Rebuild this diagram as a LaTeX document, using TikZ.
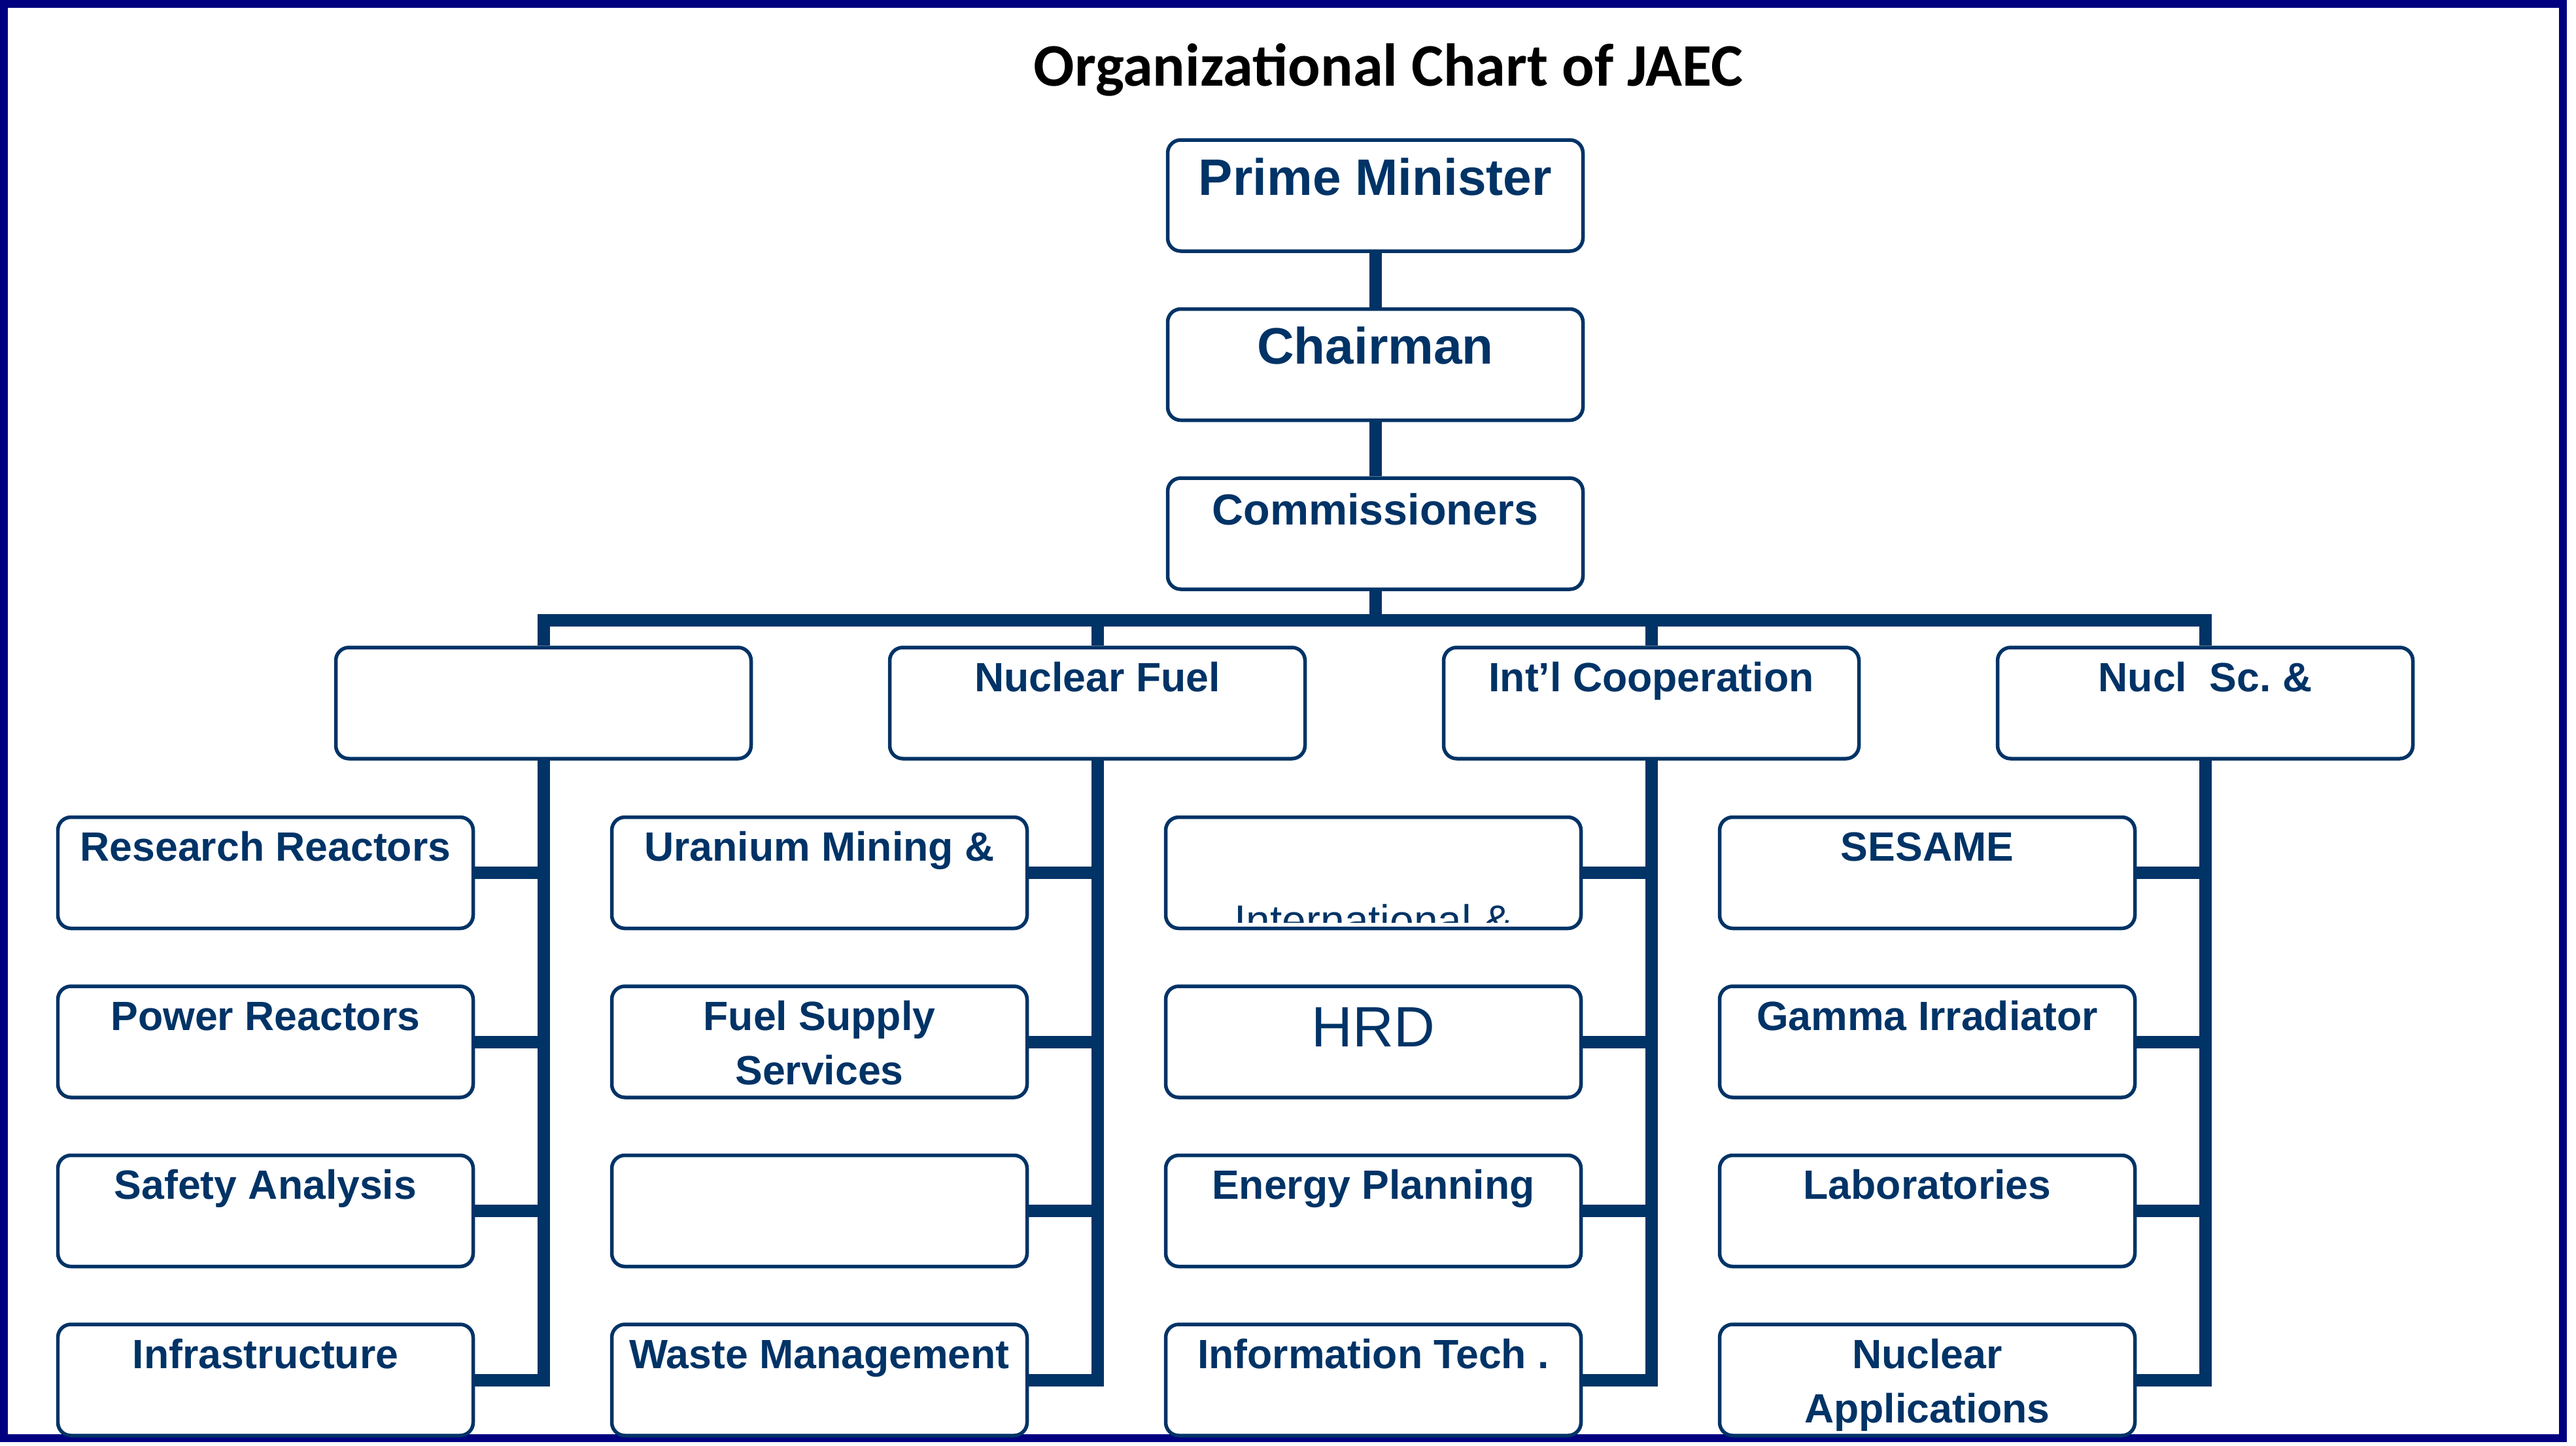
\documentclass[tikz,border=0pt]{standalone}
\usepackage{fontspec}
\setmainfont{Liberation Sans}
\newfontfamily\calibri{Carlito}
\definecolor{jaec}{RGB}{0,51,102}
\definecolor{rim}{RGB}{0,0,128}
\begin{document}
\begin{tikzpicture}
	\def\dx{8.47}
	\def\dy{2.585}
	\tikzset{s/.style={draw=jaec,line width=0.055cm,rounded corners=0.2cm,minimum width=6.35cm,minimum height=1.7cm,inner sep=0pt,align=center,text=jaec,font=\bfseries\fontsize{17.8}{23.6}\selectfont,text height=0.67cm,text depth=1.03cm},
		two/.style={text height=1.5cm,text depth=0.2cm},
		big/.style={font=\bfseries\fontsize{22.3}{26}\selectfont,text height=0.84cm,text depth=0.86cm},
		mid/.style={font=\bfseries\fontsize{18.9}{23}\selectfont,text height=0.71cm,text depth=0.99cm},
		hrd/.style={font=\fontsize{24.75}{30}\selectfont,text height=0.92cm,text depth=0.78cm},
		bar/.style={draw=jaec,line width=0.19cm}}
	\useasboundingbox(0,0)rectangle(39.39,-22.11);
	\draw[rim,line width=0.12cm](0.06,-0.06)rectangle(39.19,-21.99);
	\path(21.23,-1.317)node[anchor=base,font=\calibri\bfseries\fontsize{26.3}{30}\selectfont](T){Organizational Chart of JAEC};
	\path(21.03,-2.99)node[s,big](PM){Prime Minister}++(0,-\dy)node[s,big](CH){Chairman}++(0,-\dy)node[s,mid](CO){Commissioners};
	\path(CO.south)++(0,-0.45)coordinate(bus);
	\path(8.31,-10.75)node[s](A){}++(\dx,0)node[s](B){Nuclear Fuel}++(\dx,0)node[s](C){Int’l Cooperation}++(\dx,0)node[s](D){Nucl\ \ Sc.\ \&};
	\path(A)++(-4.25,-2.595)node[s](a1){Research Reactors}++(0,-\dy)node[s](a2){Power Reactors}++(0,-\dy)node[s](a3){Safety Analysis}++(0,-\dy)node[s](a4){Infrastructure};
	\path(B)++(-4.25,-2.595)node[s](b1){Uranium Mining \&}++(0,-\dy)node[s,two](b2){Fuel Supply\\Services}++(0,-\dy)node[s](b3){}++(0,-\dy)node[s](b4){Waste Management};
	\path(C)++(-4.25,-2.595)node[s](c1){}++(0,-\dy)node[s,hrd](c2){HRD}++(0,-\dy)node[s](c3){Energy Planning}++(0,-\dy)node[s](c4){Information Tech .};
	\path(D)++(-4.25,-2.595)node[s](d1){SESAME}++(0,-\dy)node[s](d2){Gamma Irradiator}++(0,-\dy)node[s](d3){Laboratories}++(0,-\dy)node[s,two](d4){Nuclear\\Applications};
	%% text cut off by its box
	\begin{scope}
		\clip(c1.north west)rectangle([yshift=0.12cm]c1.south east);
		\node[anchor=base,text=jaec,font=\fontsize{18.75}{22}\selectfont](c1t)at([yshift=-0.08cm]c1.south){International \&};
	\end{scope}
	%% connectors
	\foreach \x/\y in {PM/CH,CH/CO,CO/bus}
	\draw[bar](\x)--(\y);
	\draw[bar](A.north)|-(bus)-|(D.north);
	\foreach \x in {B,C}
	\draw[bar](\x.north)--(\x.north|-bus);
	\foreach \x/\y in {A/a,B/b,C/c,D/d}{
		\draw[bar](\x.south)|-(\y4.east);
		\foreach \i in {1,2,3}
		\draw[bar](\y\i.east)--(\y\i.east-|\x.south);
	}
\end{tikzpicture}
\end{document}
